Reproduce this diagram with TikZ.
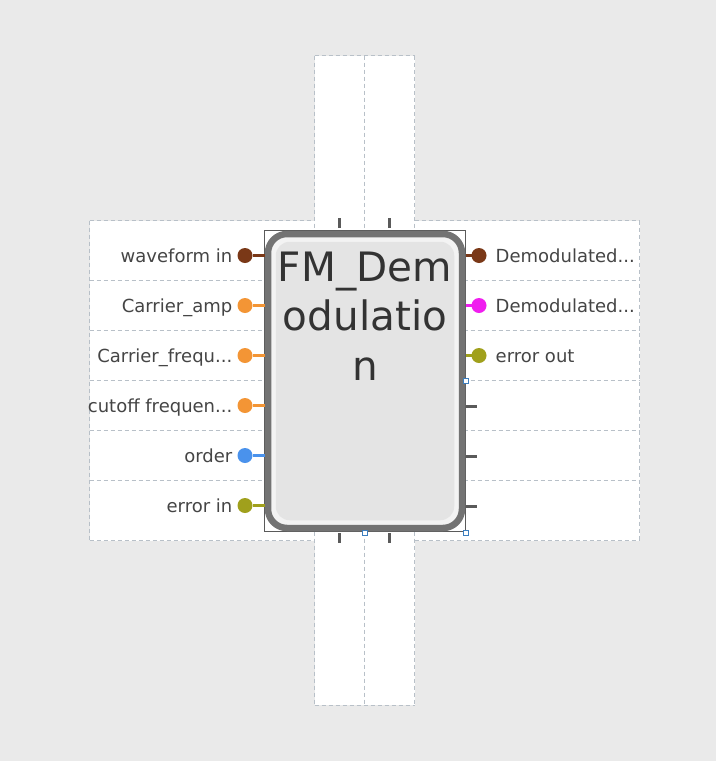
\documentclass[tikz,border=0pt]{standalone}
\usepackage{fontspec}
\setmainfont{DejaVu Sans}
\usetikzlibrary{positioning}

\definecolor{canvas}{HTML}{EAEAEA}
\definecolor{gridline}{HTML}{B8C0C8}
\definecolor{frame}{HTML}{737373}
\definecolor{bodylight}{HTML}{F3F3F3}
\definecolor{bodyfill}{HTML}{E4E4E4}
\definecolor{txt}{HTML}{454545}
\definecolor{titletxt}{HTML}{333333}
\definecolor{pbrown}{HTML}{7A3817}
\definecolor{porange}{HTML}{F39535}
\definecolor{pblue}{HTML}{4A92EC}
\definecolor{polive}{HTML}{A0A01C}
\definecolor{pmagenta}{HTML}{F01EEF}
\definecolor{handle}{HTML}{3C7EBF}
\definecolor{tickgray}{HTML}{5A5A5A}

\tikzset{
  sepline/.style={gridline, dash pattern=on 4pt off 3pt, line width=1pt},
  port/.style={circle, fill=#1, minimum size=15pt, inner sep=0pt, outer sep=0pt},
  stub/.style={#1, line width=3pt},
  lbl/.style={font=\fontsize{18}{21}\selectfont, text=txt, inner sep=0pt},
  ticks/.style={tickgray, line width=3pt},
  hnd/.style={rectangle, draw=handle, fill=white, line width=0.8pt, minimum size=5pt, inner sep=0pt}
}

\begin{document}
\begin{tikzpicture}[x=1pt,y=-1pt]

\fill[canvas] (0,0) rectangle (716,761);
\useasboundingbox (0,0) rectangle (716,761);

\fill[white] (89.5,220.5) rectangle (639.5,540.5);
\fill[white] (314.5,55.5) rectangle (414.5,705);

% row lines
\draw[sepline] (89.5,220.5) -- (314.5,220.5);
\draw[sepline] (414.5,220.5) -- (639.5,220.5);
\draw[sepline] (89.5,280.5) -- (314.5,280.5);
\draw[sepline] (414.5,280.5) -- (639.5,280.5);
\draw[sepline] (89.5,330.5) -- (314.5,330.5);
\draw[sepline] (414.5,330.5) -- (639.5,330.5);
\draw[sepline] (89.5,380.5) -- (314.5,380.5);
\draw[sepline] (414.5,380.5) -- (639.5,380.5);
\draw[sepline] (89.5,430.5) -- (314.5,430.5);
\draw[sepline] (414.5,430.5) -- (639.5,430.5);
\draw[sepline] (89.5,480.5) -- (314.5,480.5);
\draw[sepline] (414.5,480.5) -- (639.5,480.5);
\draw[sepline] (89.5,540.5) -- (314.5,540.5);
\draw[sepline] (414.5,540.5) -- (639.5,540.5);
\draw[sepline] (89.5,220.5) -- (89.5,540.5);
\draw[sepline] (639.5,220.5) -- (639.5,540.5);

% column lines
\draw[sepline] (314.5,55.5) -- (414.5,55.5);
\draw[sepline] (314.5,705) -- (414.5,705);
\draw[sepline] (314.5,55.5) -- (314.5,705);
\draw[sepline] (364.5,55.5) -- (364.5,705);
\draw[sepline] (414.5,55.5) -- (414.5,705);

\draw[ticks] (339.5,218) -- (339.5,228);
\draw[ticks] (389.5,218) -- (389.5,228);
\draw[ticks] (339.5,533) -- (339.5,543);
\draw[ticks] (389.5,533) -- (389.5,543);
\draw[ticks] (466,406) -- (477,406);
\draw[ticks] (466,456) -- (477,456);
\draw[ticks] (466,506) -- (477,506);

\node[draw=tickgray, line width=0.8pt, minimum width=201pt, minimum height=300.5pt,
      inner sep=0pt, outer sep=0pt] (sel) at (365,380.75) {};
\node[draw=frame, fill=bodylight, line width=6.5pt, rounded corners=19pt,
      minimum width=194pt, minimum height=294pt, inner sep=0pt] (blk) at (365,381) {};
\node[fill=bodyfill, rounded corners=14pt, minimum width=178.5pt, minimum height=278.5pt,
      inner sep=0pt] (core) at (blk.center) {};
\node[anchor=north, align=center, inner sep=0pt, text=titletxt,
      font=\fontsize{40.5}{49.5}\selectfont] (title) at (365,251.5) {FM\_Dem\\odulatio\\n};

% inputs
\node[port=pbrown] (in1) at (245,255.5) {};
\node[port=porange] (in2) at (245,305.5) {};
\node[port=porange] (in3) at (245,355.5) {};
\node[port=porange] (in4) at (245,405.5) {};
\node[port=pblue] (in5) at (245,455.5) {};
\node[port=polive] (in6) at (245,505.5) {};
\draw[stub=pbrown] (in1) -- (in1 -| sel.west);
\draw[stub=porange] (in2) -- (in2 -| sel.west);
\draw[stub=porange] (in3) -- (in3 -| sel.west);
\draw[stub=porange] (in4) -- (in4 -| sel.west);
\draw[stub=pblue] (in5) -- (in5 -| sel.west);
\draw[stub=polive] (in6) -- (in6 -| sel.west);
\node[lbl, left=5pt of in1, anchor=base east, yshift=-6.8pt] (in1lbl) {waveform in};
\node[lbl, left=5pt of in2, anchor=base east, yshift=-6.8pt] (in2lbl) {Carrier\_amp};
\node[lbl, left=5pt of in3, anchor=base east, yshift=-6.8pt] (in3lbl) {Carrier\_frequ...};
\node[lbl, left=5pt of in4, anchor=base east, yshift=-6.8pt] (in4lbl) {cutoff frequen...};
\node[lbl, left=5pt of in5, anchor=base east, yshift=-6.8pt] (in5lbl) {order};
\node[lbl, left=5pt of in6, anchor=base east, yshift=-6.8pt] (in6lbl) {error in};

% outputs
\node[port=pbrown] (out1) at (479,255.5) {};
\node[port=pmagenta] (out2) at (479,305.5) {};
\node[port=polive] (out3) at (479,355.5) {};
\draw[stub=pbrown] (out1 -| sel.east) -- (out1);
\draw[stub=pmagenta] (out2 -| sel.east) -- (out2);
\draw[stub=polive] (out3 -| sel.east) -- (out3);
\node[lbl, right=9pt of out1, anchor=base west, yshift=-6.8pt] (out1lbl) {Demodulated...};
\node[lbl, right=9pt of out2, anchor=base west, yshift=-6.8pt] (out2lbl) {Demodulated...};
\node[lbl, right=9pt of out3, anchor=base west, yshift=-6.8pt] (out3lbl) {error out};

\node[hnd] (h1) at (466,380.5) {};
\node[hnd] (h2) at (466,532.5) {};
\node[hnd] (h3) at (364.5,532.5) {};

\end{tikzpicture}
\end{document}
